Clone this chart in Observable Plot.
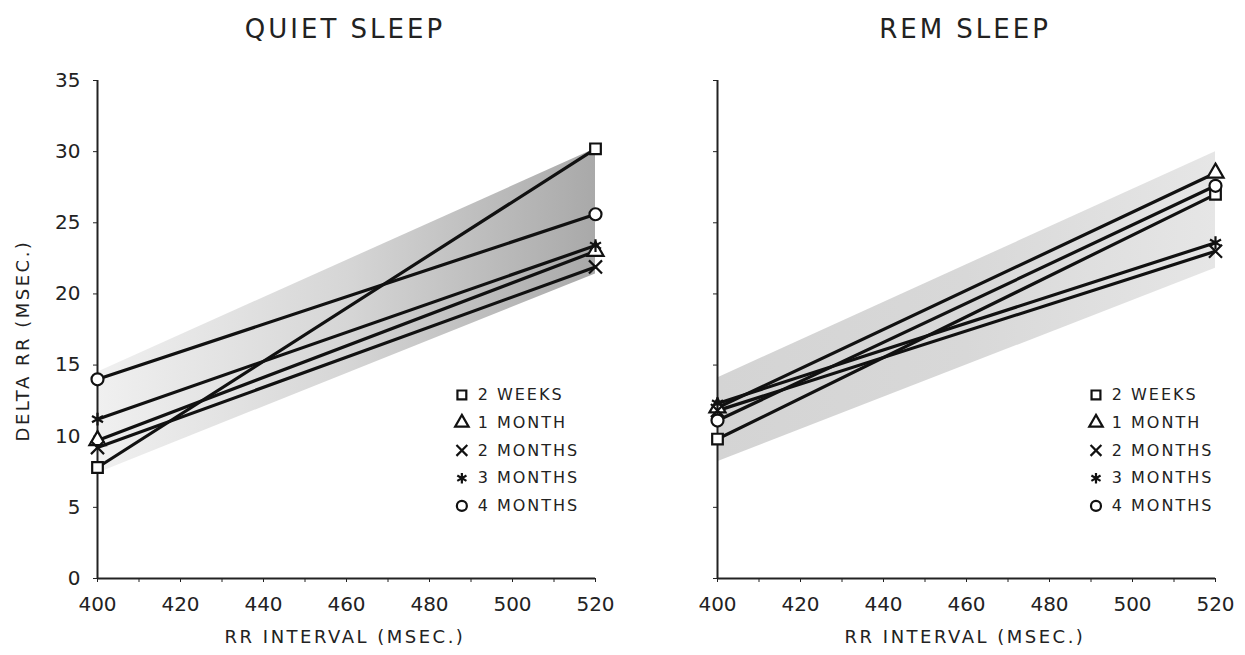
<!DOCTYPE html>
<html>
<head>
<meta charset="utf-8">
<script src="https://cdn.jsdelivr.net/npm/d3@7"></script>
<script src="https://cdn.jsdelivr.net/npm/@observablehq/plot@0.6"></script>
<style>
  html, body { margin: 0; padding: 0; background: #fff; }
  #wrap { position: relative; width: 1245px; height: 655px; overflow: hidden; font-family: "DejaVu Sans", sans-serif; color: #222; }
  .title { position: absolute; top: 14px; font-size: 26px; letter-spacing: 3px; text-align: center; width: 400px; }
  .xlabel { position: absolute; top: 626px; font-size: 18px; letter-spacing: 2.5px; text-align: center; width: 400px; }
  .ylabel { position: absolute; font-size: 18px; letter-spacing: 2.5px; width: 300px; text-align: center; transform: rotate(-90deg); transform-origin: center; }
  .panel { position: absolute; top: 60px; }
</style>
</head>
<body>
<div id="wrap">
  <div class="title" style="left:145px">QUIET SLEEP</div>
  <div class="title" style="left:765px">REM SLEEP</div>
  <div class="xlabel" style="left:145px">RR INTERVAL (MSEC.)</div>
  <div class="xlabel" style="left:765px">RR INTERVAL (MSEC.)</div>
  <div class="ylabel" style="left:-128px; top:330px">DELTA RR (MSEC.)</div>
  <div class="panel" id="left" style="left:0px"></div>
  <div class="panel" id="right" style="left:622px"></div>
</div>
<script>
// ---- data ----
const xEnds = [400, 520];
const series = ["2 WEEKS", "1 MONTH", "2 MONTHS", "3 MONTHS", "4 MONTHS"];
const symbols = ["square", "triangle", "times", "asterisk", "circle"];

const quietAt400 = [7.8, 9.7, 9.2, 11.2, 14.0];
const quietAt520 = [30.2, 23.0, 21.9, 23.4, 25.6];
const remAt400 = [9.8, 12.0, 11.8, 12.3, 11.1];
const remAt520 = [27.0, 28.5, 23.0, 23.6, 27.6];

const bandX = [400, 520];
const quietBandLow = [7.4, 21.4];
const quietBandHigh = [14.5, 30.2];
const remBandLow = [8.2, 21.8];
const remBandHigh = [14.1, 30.0];

const xDomain = [400, 520];
const yDomain = [0, 35];
const xTicks = [400, 410, 420, 430, 440, 450, 460, 470, 480, 490, 500, 510, 520];
const yTicks = [0, 5, 10, 15, 20, 25, 30, 35];

// ---- build ----
function tidy(at400, at520) {
  const rows = [];
  series.forEach((s, i) => {
    rows.push({series: s, x: xEnds[0], y: at400[i]});
    rows.push({series: s, x: xEnds[1], y: at520[i]});
  });
  return rows;
}
function band(low, high) {
  return bandX.map((x, i) => ({x, lo: low[i], hi: high[i]}));
}

function panel({rows, bandRows, gradId, gradStops, showYLabels, marginLeft, marginRight, width, legendSymX, legendTextX}) {
  const legendTop = 12.9, legendStep = 1.95;
  const legendRows = series.map((s, i) => ({series: s, sx: legendSymX, tx: legendTextX, ly: legendTop - i * legendStep}));
  const xAxisLine = [{y: yDomain[0], x1: xDomain[0], x2: xDomain[1]}];
  const yAxisLine = [{x: xDomain[0], y1: yDomain[0], y2: yDomain[1]}];
  const svg = Plot.plot({
    width, height: 595,
    marginLeft, marginRight, marginTop: 20, marginBottom: 77,
    style: {fontFamily: "DejaVu Sans, sans-serif", fontSize: "20px", color: "#222", background: "transparent", overflow: "visible"},
    x: {domain: xDomain},
    y: {domain: yDomain},
    symbol: {domain: series, range: symbols},
    marks: [
      Plot.areaY(bandRows, {x: "x", y1: "lo", y2: "hi", fill: `url(#${gradId})`}),
      Plot.axisX({ticks: xTicks, tickSize: 4, tickPadding: 14, label: null,
                  tickFormat: d => d % 20 === 0 ? String(d) : "", fontSize: 20}),
      Plot.axisY({ticks: yTicks, tickSize: 4, tickPadding: 13, label: null,
                  tickFormat: d => showYLabels ? String(d) : "", fontSize: 20}),
      Plot.ruleY(xAxisLine, {y: "y", x1: "x1", x2: "x2", stroke: "#222", strokeWidth: 2}),
      Plot.ruleX(yAxisLine, {x: "x", y1: "y1", y2: "y2", stroke: "#222", strokeWidth: 2}),
      Plot.line(rows, {x: "x", y: "y", z: "series", stroke: "#111", strokeWidth: 3.2}),
      Plot.dot(rows, {x: "x", y: "y", symbol: "series", r: 6, fill: "white", stroke: "#111", strokeWidth: 2.2}),
      Plot.dot(legendRows, {x: "sx", y: "ly", symbol: "series",
                            r: 5, fill: "white", stroke: "#111", strokeWidth: 2.2}),
      Plot.text(legendRows, {x: "tx", y: "ly", text: "series",
                             textAnchor: "start", fontSize: 16, fill: "#222"})
    ]
  });
  const defs = d3.select(svg).insert("defs", ":first-child");
  const g = defs.append("linearGradient").attr("id", gradId)
    .attr("x1", "0").attr("x2", "1").attr("y1", "0").attr("y2", "0");
  gradStops.forEach(([off, col]) => g.append("stop").attr("offset", off).attr("stop-color", col));
  d3.select(svg).selectAll("g[aria-label='text'] text").style("letter-spacing", "2px");
  return svg;
}

document.getElementById("left").appendChild(panel({
  rows: tidy(quietAt400, quietAt520),
  bandRows: band(quietBandLow, quietBandHigh),
  gradId: "gradQuiet",
  gradStops: [["0", "#f0f0f0"], ["0.5", "#d6d6d6"], ["1", "#a9a9a9"]],
  showYLabels: true, width: 622, marginLeft: 97, marginRight: 27,
  legendSymX: 487.8, legendTextX: 491.6
}));
document.getElementById("right").appendChild(panel({
  rows: tidy(remAt400, remAt520),
  bandRows: band(remBandLow, remBandHigh),
  gradId: "gradRem",
  gradStops: [["0", "#d4d4d4"], ["0.5", "#d8d8d8"], ["1", "#e6e6e6"]],
  showYLabels: false, width: 623, marginLeft: 95, marginRight: 30,
  legendSymX: 491.2, legendTextX: 495.0
}));
</script>
</body>
</html>
